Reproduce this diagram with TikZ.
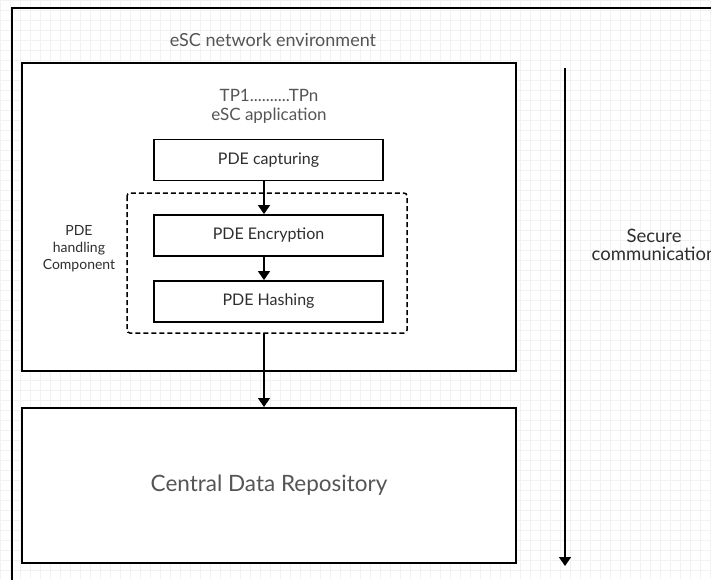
\documentclass[tikz,border=0pt]{standalone}
\usepackage{fontspec}
\setmainfont{Lato}
\usetikzlibrary{arrows.meta}
\definecolor{labelgray}{HTML}{555555}
\definecolor{boxtext}{HTML}{2E2E2E}
\tikzset{
  x=1pt, y=-1pt,
  frame/.style={draw=black, line width=2pt, fill=white},
  stage/.style={draw=black, line width=1.8pt, fill=white, minimum width=229pt,
    minimum height=41pt, inner sep=0pt, font=\fontsize{16}{18}\selectfont, text=boxtext},
  label/.style={text=labelgray, align=center, inner sep=0pt},
  flow/.style={draw=black, line width=1.3pt, -{Triangle[length=9pt,width=12pt]}},
}
\begin{document}
\begin{tikzpicture}
\useasboundingbox (0,0) rectangle (711,579);
\clip (0,0) rectangle (711,579);
% background grid
\fill[white] (0,0) rectangle (711,579);
\draw[gray!10, line width=0.5pt, step=10pt] (0,0) grid (711,579);
% outer network environment frame
\draw[line width=2pt, draw=black] (12,590) -- (12,8) -- (720,8);
\node[label, font=\fontsize{18}{21}\selectfont] (env) at (273,40) {eSC network environment};
% application box
\node[frame, minimum width=494pt, minimum height=308pt, inner sep=0pt] (app) at (269,217) {};
\node[label, font=\fontsize{17}{19}\selectfont] (tp) at (269,106) {TP1..........TPn\\eSC application};
% handling component (dashed)
\draw[dashed, dash pattern=on 5pt off 3pt, line width=1.5pt, rounded corners=3pt]
  (127,193) rectangle (407,333);
\coordinate (hbot) at (264,333);
\node[label, text=boxtext, font=\fontsize{14}{17}\selectfont] (hc) at (79,249) {PDE\\handling\\Component};
% processing stages
\node[stage] (cap) at (268.5,160) {PDE capturing};
\node[stage] (enc) at (268.5,235.5) {PDE Encryption};
\node[stage] (hash) at (268.5,301.5) {PDE Hashing};
\draw[flow] (cap.south -| hbot) -- (enc.north -| hbot);
\draw[flow] (enc.south -| hbot) -- (hash.north -| hbot);
% central repository
\node[frame, minimum width=494pt, minimum height=155pt, inner sep=0pt,
  font=\fontsize{22.5}{26}\selectfont, text=labelgray] (cdr) at (269,485.5) {Central Data Repository};
\draw[flow] (hbot) -- (cdr.north -| hbot);
% secure communication arrow
\coordinate (sc1) at (565,68);
\coordinate (sc2) at (565,566);
\draw[flow, line width=1.5pt] (sc1) -- (sc2);
\node[label, text=boxtext, font=\fontsize{18.5}{18}\selectfont] (sc) at (654,245) {Secure\\communication};
\end{tikzpicture}
\end{document}
